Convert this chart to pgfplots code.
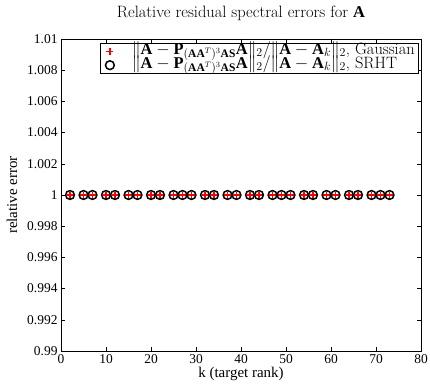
\documentclass[border=0pt]{standalone}
\usepackage{fontspec}
\setmainfont{Liberation Serif}
\usepackage{pgfplots}
\pgfplotsset{compat=1.18}
\newcommand{\cmfont}{\fontfamily{lmr}\selectfont}
\begin{document}
\begin{tikzpicture}
\begin{axis}[
  name=ax,
  scale only axis,
  width=360bp, height=312bp,
  xmin=0, xmax=80, ymin=0.99, ymax=1.01,
  xtick={0,10,...,80},
  ytick={0.99,0.992,0.994,0.996,0.998,1,1.002,1.004,1.006,1.008,1.01},
  yticklabels={0.99,0.992,0.994,0.996,0.998,1,1.002,1.004,1.006,1.008,1.01},
  tick align=inside,
  major tick length=4bp,
  tick style={black, line width=0.6pt},
  axis line style={black, line width=0.8pt},
  ticklabel style={font=\fontsize{13.5}{15}\selectfont},
  /pgf/number format/assume math mode=true,
  xlabel={k (target rank)},
  ylabel={relative error},
  label style={font=\fontsize{15}{16}\selectfont},
  xlabel style={yshift=3bp},
  ylabel style={yshift=3bp},
  title={\cmfont Relative residual spectral errors for $\mathbf{A}$},
  title style={font=\fontsize{16.5}{18}\selectfont, yshift=9bp},
  legend style={at={(1,1)}, anchor=north east, xshift=-3bp, yshift=-4bp,
    font=\fontsize{16.5}{17}\selectfont, draw=black,
    inner sep=1pt, row sep=0pt, column sep=12bp,
    nodes={text height=10bp, text depth=4bp, inner ysep=0pt, inner xsep=2bp},
    cells={anchor=west}},
  legend cell align=left,
]
\addplot[only marks, mark=+, mark size=3.5bp, color=red, mark options={color=red, line width=1.3pt},
  legend image code/.code={\path (-8bp,0pt) (8bp,0pt);
    \draw[red, line width=1.3pt] (-3.5bp,0pt) -- (3.5bp,0pt) (0pt,-3.5bp) -- (0pt,3.5bp);}] coordinates {
(2,1)(5,1)(7,1)(10,1)(12,1)(15,1)(17,1)(20,1)(22,1)(25,1)(27,1)(29,1)(32,1)(34,1)(37,1)(39,1)(42,1)(44,1)(47,1)(49,1)(51,1)(54,1)(56,1)(59,1)(61,1)(64,1)(66,1)(69,1)(71,1)(73,1)
};
\addlegendentry{\cmfont $\|\mathbf{A}-\mathbf{P}_{(\mathbf{A}\mathbf{A}^T)^3\mathbf{A}\mathbf{S}}\mathbf{A}\|_2/\|\mathbf{A}-\mathbf{A}_k\|_2$, Gaussian}
\addplot[only marks, mark=o, mark size=4.4bp, color=black, mark options={color=black, line width=1.5pt},
  legend image code/.code={\path (-8bp,0pt) (8bp,0pt);
    \draw[black, line width=1.5pt] (0pt,0pt) circle[radius=4.4bp];}] coordinates {
(2,1)(5,1)(7,1)(10,1)(12,1)(15,1)(17,1)(20,1)(22,1)(25,1)(27,1)(29,1)(32,1)(34,1)(37,1)(39,1)(42,1)(44,1)(47,1)(49,1)(51,1)(54,1)(56,1)(59,1)(61,1)(64,1)(66,1)(69,1)(71,1)(73,1)
};
\addlegendentry{\cmfont $\|\mathbf{A}-\mathbf{P}_{(\mathbf{A}\mathbf{A}^T)^3\mathbf{A}\mathbf{S}}\mathbf{A}\|_2/\|\mathbf{A}-\mathbf{A}_k\|_2$, SRHT}
\end{axis}
\pgfresetboundingbox
\path (ax.south west) ++(-61bp,-34bp) coordinate (bl);
\path (ax.north east) ++(9bp,39bp) coordinate (tr);
\path[use as bounding box] (bl) rectangle (tr);
\end{tikzpicture}
\end{document}
